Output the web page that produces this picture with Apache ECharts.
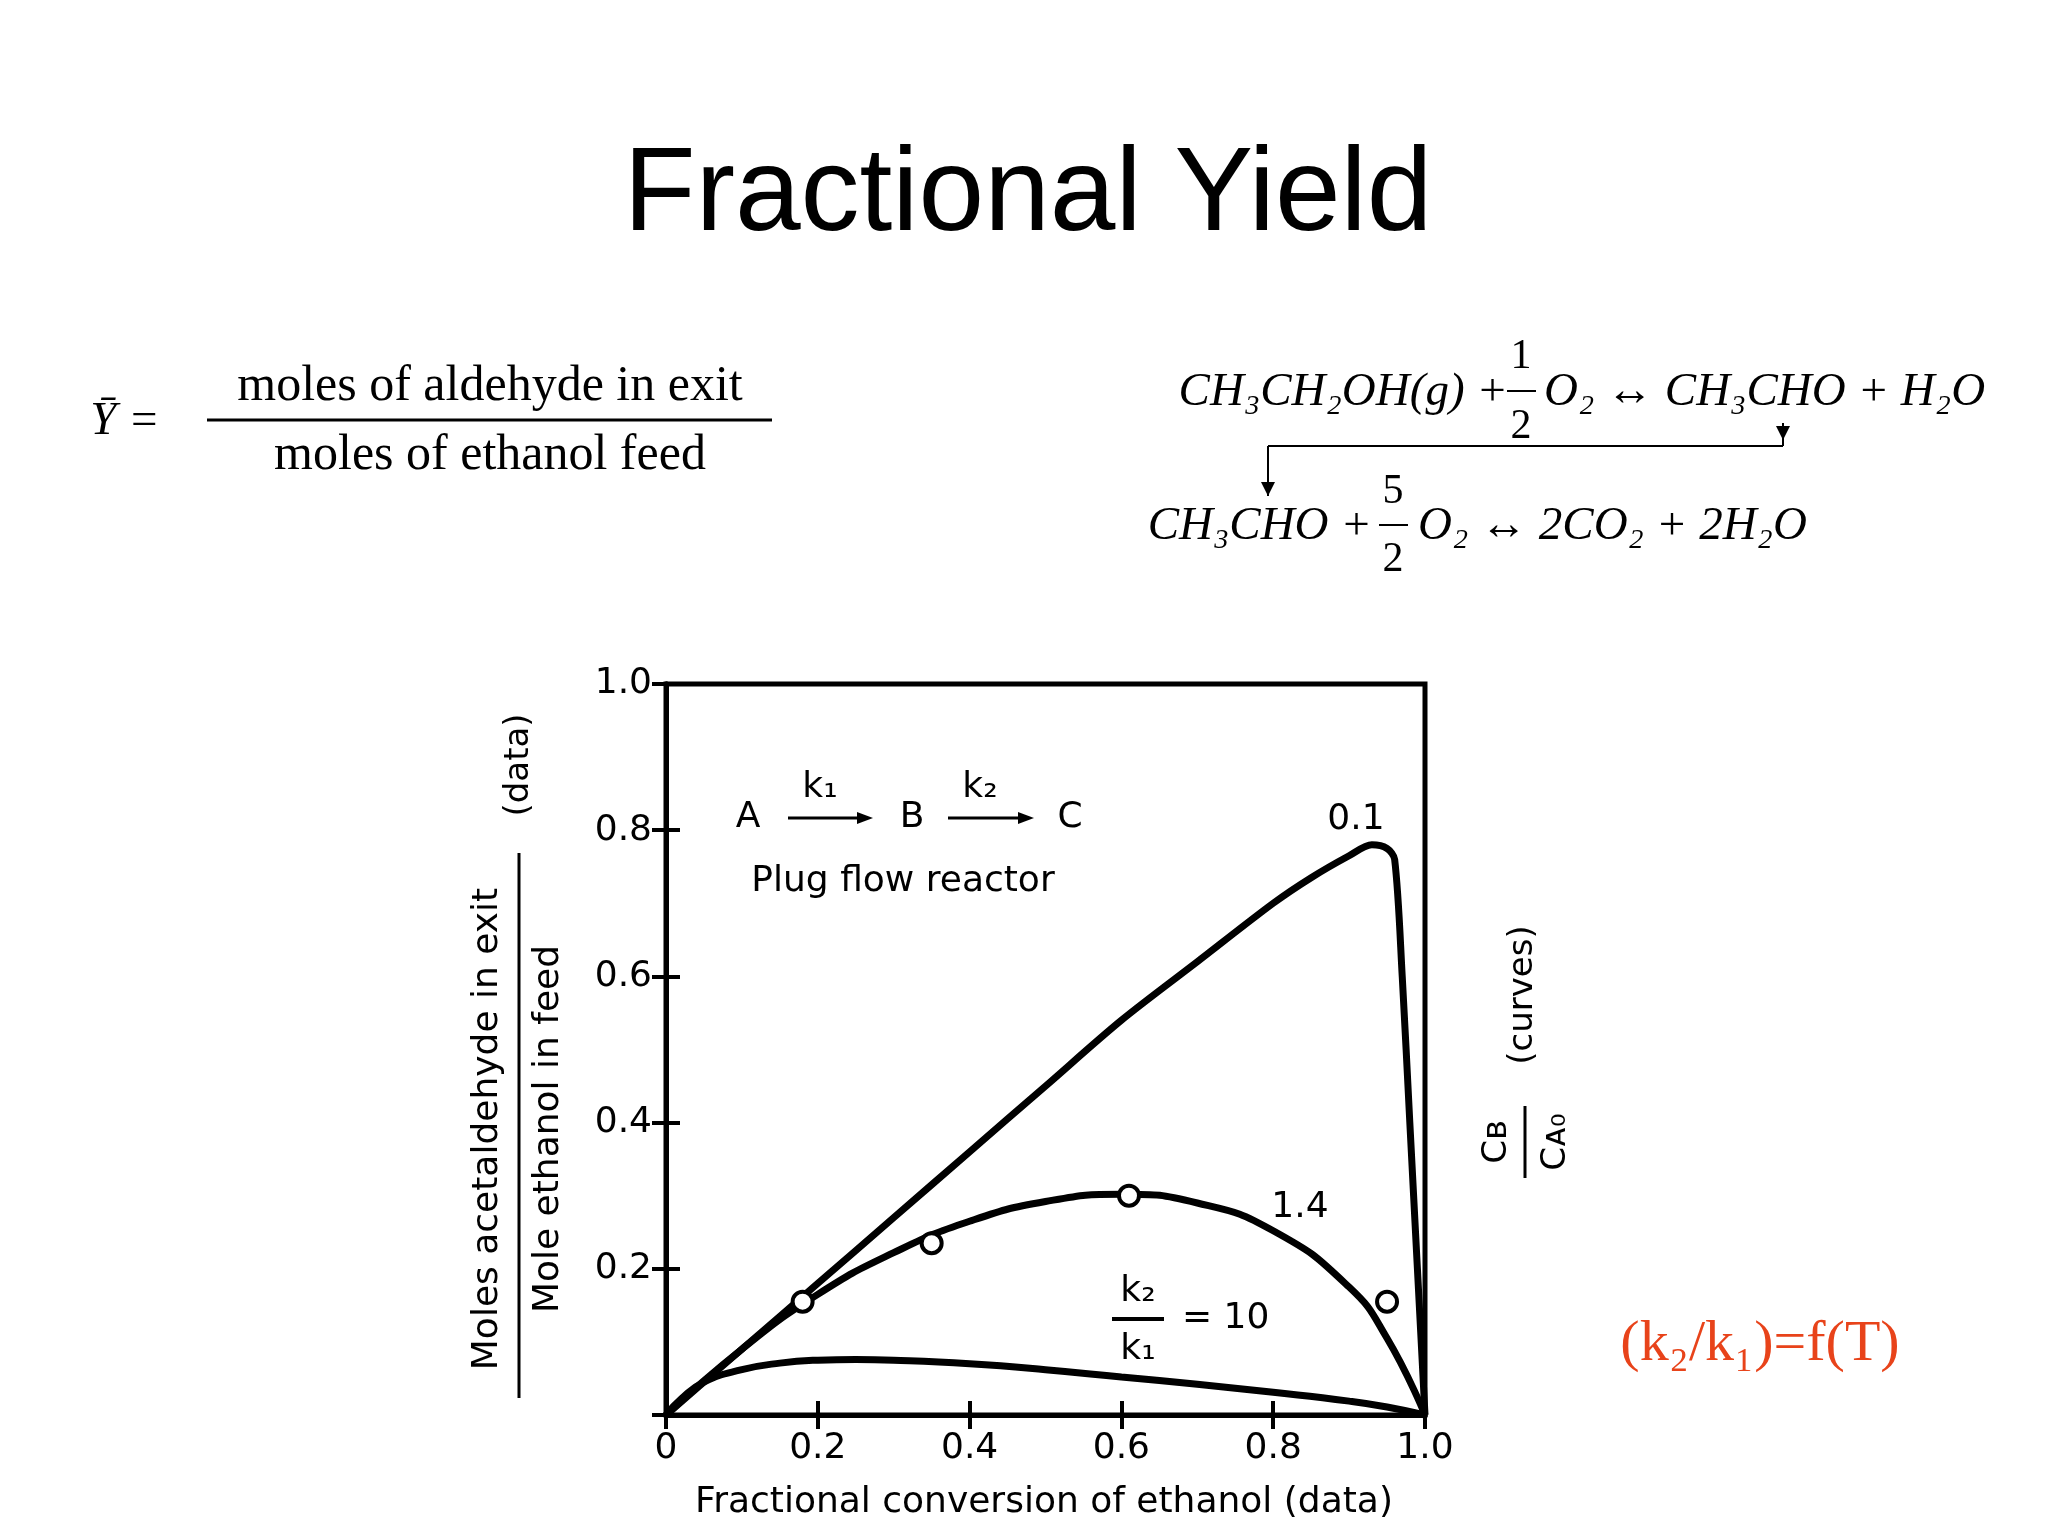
<!DOCTYPE html>
<html>
<head>
<meta charset="utf-8">
<title>Fractional Yield</title>
<script src="https://cdn.jsdelivr.net/npm/echarts@6/dist/echarts.min.js"></script>
<style>html,body{margin:0;background:#fff}</style>
</head>
<body>
<div id="main" style="width:2048px;height:1536px;"></div>
<script>
// curves: k2/k1 = 0.1, 1.4, 10
var curve01 = [[0,0],[0.1,0.09],[0.2,0.18],[0.3,0.27],[0.4,0.36],[0.5,0.45],[0.6,0.54],[0.7,0.62],[0.8,0.70],[0.85,0.735],[0.9,0.765],[0.93,0.78],[0.95,0.775],[0.96,0.76],[0.97,0.6],[0.98,0.4],[0.99,0.2],[1.0,0]];
var curve14 = [[0,0],[0.1,0.09],[0.2,0.165],[0.3,0.222],[0.4,0.265],[0.5,0.292],[0.6,0.302],[0.7,0.29],[0.8,0.252],[0.9,0.175],[0.95,0.105],[1.0,0]];
var curve10 = [[0,0],[0.02,0.022],[0.05,0.045],[0.1,0.062],[0.15,0.071],[0.2,0.075],[0.25,0.076],[0.3,0.075],[0.4,0.07],[0.5,0.062],[0.6,0.052],[0.7,0.042],[0.8,0.031],[0.9,0.019],[0.95,0.011],[1.0,0]];
var dataPts = [[0.18,0.155],[0.35,0.235],[0.61,0.30],[0.95,0.155]];

var F = 'DejaVu Sans';
var S = 'Liberation Serif';
var myChart = echarts.init(document.getElementById('main'));

function txt(x, y, s, size, opt) {
  opt = opt || {};
  return {type:'text', x:x, y:y, rotation:opt.rot || 0,
    style:{text:s, fontSize:size, fontFamily:opt.font || F, fontStyle:opt.italic ? 'italic' : 'normal',
      fill:opt.color || '#000', textAlign:opt.align || 'center', textVerticalAlign:'middle'}};
}
function ln(x1, y1, x2, y2, w) {
  return {type:'line', shape:{x1:x1, y1:y1, x2:x2, y2:y2}, style:{stroke:'#000', lineWidth:w || 2}};
}
function arrowHead(x, y, dir) {
  var pts = dir === 'down' ? [[x-7,y-14],[x+7,y-14],[x,y]] : [[x-16,y-6],[x-16,y+6],[x,y]];
  return {type:'polygon', shape:{points:pts}, style:{fill:'#000'}};
}

var axisLine = {show:true, lineStyle:{color:'#000', width:5}};
var tick = {show:true, inside:true, length:14, lineStyle:{width:4, color:'#000'}};
var lbl = {fontSize:36, fontFamily:F, color:'#000'};

var option = {
  animation:false,
  backgroundColor:'#fff',
  grid:{left:666, right:2048-1425, top:684, bottom:1536-1415, show:true, borderColor:'#000', borderWidth:5},
  xAxis:[
    {type:'value', min:0, max:1, interval:0.2, axisLine:axisLine, axisTick:tick,
     axisLabel:{...lbl, margin:16, formatter:function(v){return v === 0 ? '0' : v.toFixed(1);}},
     splitLine:{show:false}},
    {type:'value', position:'top', min:0, max:1, interval:0.2, axisLine:axisLine, axisTick:tick,
     axisLabel:{show:false}, splitLine:{show:false}}
  ],
  yAxis:[
    {type:'value', min:0, max:1, interval:0.2, axisLine:axisLine, axisTick:tick,
     axisLabel:{...lbl, margin:14, formatter:function(v){return v === 0 ? '' : v.toFixed(1);}},
     splitLine:{show:false}},
    {type:'value', position:'right', min:0, max:1, interval:0.2, axisLine:axisLine, axisTick:tick,
     axisLabel:{show:false}, splitLine:{show:false}}
  ],
  series:[
    {type:'line', data:curve01, smooth:0.3, symbol:'none', lineStyle:{color:'#000', width:7}},
    {type:'line', data:curve14, smooth:true, symbol:'none', lineStyle:{color:'#000', width:7}},
    {type:'line', data:curve10, smooth:true, symbol:'none', lineStyle:{color:'#000', width:7}},
    {type:'scatter', data:dataPts, symbol:'circle', symbolSize:20,
     itemStyle:{color:'#fff', opacity:1, borderColor:'#000', borderWidth:4}, z:5},
    {type:'line', xAxisIndex:1, yAxisIndex:1, data:[], symbol:'none'}
  ],
  graphic:[
    txt(1028, 197, 'Fractional Yield', 118, {font:'Liberation Sans'}),
    txt(125, 422, 'Ȳ =', 47, {font:S, italic:true}),
    txt(490, 387, 'moles of aldehyde in exit', 50, {font:S}),
    ln(207, 420, 772, 420, 3),
    txt(490, 456, 'moles of ethanol feed', 50, {font:S}),
    txt(1508, 393, 'CH₃CH₂OH(g) +', 47, {font:S, italic:true, align:'right'}),
    txt(1521, 357, '1', 42, {font:S}),
    ln(1507, 391, 1536, 391, 2),
    txt(1521, 427, '2', 42, {font:S}),
    txt(1544, 393, 'O₂ ↔ CH₃CHO + H₂O', 47, {font:S, italic:true, align:'left'}),
    ln(1783, 423, 1783, 446, 2), arrowHead(1783, 440, 'down'),
    ln(1268, 446, 1783, 446, 2),
    ln(1268, 446, 1268, 496, 2), arrowHead(1268, 496, 'down'),
    txt(1372, 527, 'CH₃CHO +', 47, {font:S, italic:true, align:'right'}),
    txt(1393, 492, '5', 42, {font:S}),
    ln(1379, 525, 1408, 525, 2),
    txt(1393, 560, '2', 42, {font:S}),
    txt(1418, 527, 'O₂ ↔ 2CO₂ + 2H₂O', 47, {font:S, italic:true, align:'left'}),
    txt(748, 818, 'A', 36), txt(820, 788, 'k₁', 36),
    ln(788, 818, 860, 818, 3), arrowHead(873, 818, 'right'),
    txt(912, 818, 'B', 36), txt(980, 788, 'k₂', 36),
    ln(948, 818, 1020, 818, 3), arrowHead(1034, 818, 'right'),
    txt(1070, 818, 'C', 36),
    txt(903, 882, 'Plug flow reactor', 36),
    txt(1356, 820, '0.1', 36),
    txt(1300, 1208, '1.4', 36),
    txt(1138, 1292, 'k₂', 36),
    ln(1112, 1319, 1164, 1319, 4),
    txt(1138, 1350, 'k₁', 36),
    txt(1182, 1319, '= 10', 36, {align:'left'}),
    txt(488, 1129, 'Moles acetaldehyde in exit', 36, {rot:Math.PI / 2}),
    ln(519, 853, 519, 1398, 3),
    txt(549, 1129, 'Mole ethanol in feed', 36, {rot:Math.PI / 2}),
    txt(519, 765, '(data)', 34, {rot:Math.PI / 2}),
    txt(1497, 1142, 'C\u0299', 34, {rot:Math.PI / 2}),
    ln(1525, 1106, 1525, 1178, 3),
    txt(1556, 1142, 'Cᴀ₀', 34, {rot:Math.PI / 2}),
    txt(1523, 995, '(curves)', 34, {rot:Math.PI / 2}),
    txt(1044, 1503, 'Fractional conversion of ethanol (data)', 36),
    txt(1760, 1345, '(k₂/k₁)=f(T)', 58, {font:S, color:'#e8431a'})
  ]
};
myChart.setOption(option);
</script>
</body>
</html>
